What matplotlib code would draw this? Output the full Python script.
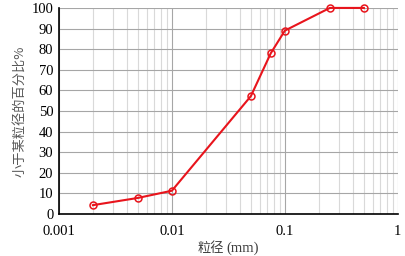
import matplotlib
matplotlib.use('Agg')
from matplotlib import pyplot as plt
from matplotlib.ticker import FixedLocator, LogLocator, NullFormatter

# particle size (mm) and cumulative passing (%)
sizes = [0.002, 0.005, 0.01, 0.05, 0.075, 0.1, 0.25, 0.5]
passing = [4.3, 7.8, 11.3, 57.2, 78.0, 89.0, 100.0, 100.0]
x_ticks = [0.001, 0.01, 0.1, 1]
x_tick_labels = ['0.001', '0.01', '0.1', '1']
y_ticks = list(range(0, 101, 10))

serif = 'Liberation Serif'
cjk = ['Noto Sans CJK SC', 'Liberation Serif']

fig = plt.figure(figsize=(4.06, 2.56), dpi=100)
ax = fig.add_axes([0.145, 0.164, 0.835, 0.805])

ax.plot(sizes, passing, '-', color='#e8141c', linewidth=1.5,
        marker='o', markersize=5, markerfacecolor='none',
        markeredgecolor='#e8141c', markeredgewidth=1.1, zorder=3,
        clip_on=False)

ax.set_xscale('log')
ax.set_xlim(0.001, 1)
ax.set_ylim(0, 100)
ax.xaxis.set_major_locator(FixedLocator(x_ticks))
ax.set_xticklabels(x_tick_labels)
ax.xaxis.set_minor_locator(LogLocator(base=10, subs=range(2, 10)))
ax.xaxis.set_minor_formatter(NullFormatter())
ax.set_yticks(y_ticks)

ax.grid(True, which='major', color='#a6a6a6', linewidth=0.8)
ax.grid(True, which='minor', axis='x', color='#d9d9d9', linewidth=0.8)
ax.set_axisbelow(True)

for side in ['top', 'right']:
    ax.spines[side].set_visible(False)
for side in ['left', 'bottom']:
    ax.spines[side].set_color('black')
    ax.spines[side].set_linewidth(1.2)

ax.tick_params(which='both', length=0)
ax.tick_params(axis='x', pad=8)
ax.tick_params(axis='y', pad=4)
for lab in ax.get_xticklabels() + ax.get_yticklabels():
    lab.set_fontfamily(serif)
    lab.set_fontsize(10.5)

# x label: Chinese part in CJK sans, unit in serif
fig.text(224 / 406, 0.031, '粒径', family=cjk, fontsize=9.5,
         color='#404040', ha='right', va='center')
fig.text(226 / 406, 0.031, '(mm)', family=serif, fontsize=10.5,
         color='#404040', ha='left', va='center')
ax.set_ylabel('小于某粒径的百分比%', family=cjk, fontsize=9.5,
              color='#595959', labelpad=4)

fig.savefig('out.png', dpi=100)
